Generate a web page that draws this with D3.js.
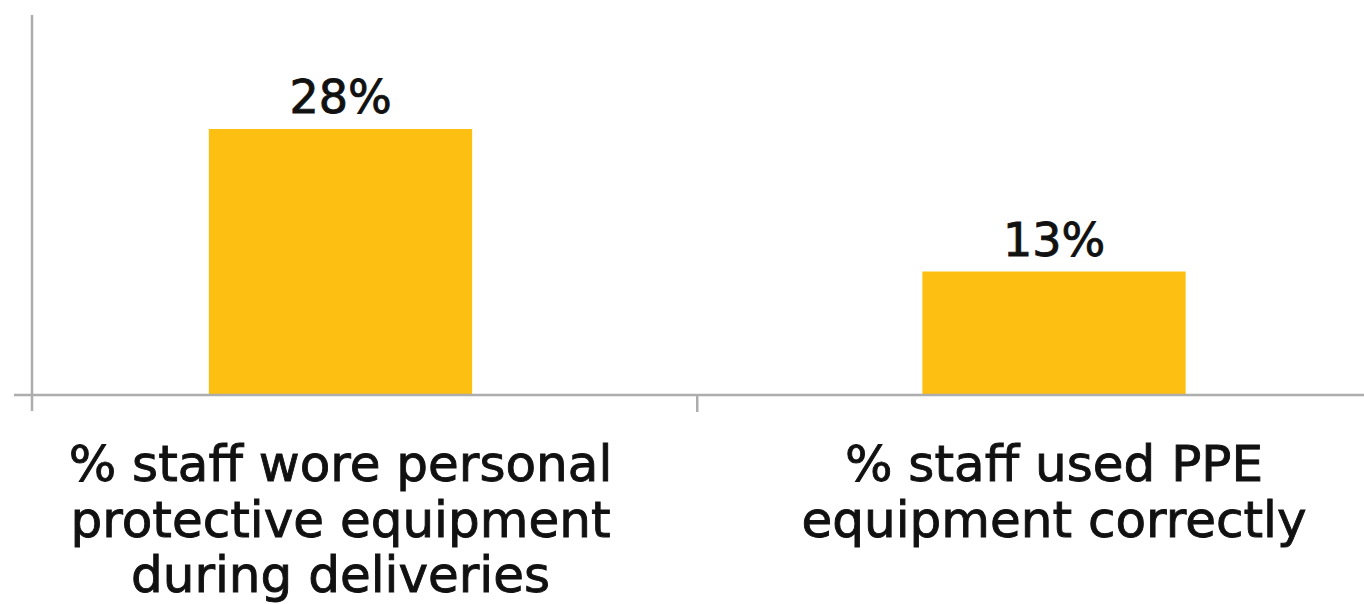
<!DOCTYPE html>
<html>
<head>
<meta charset="utf-8">
<script src="https://cdn.jsdelivr.net/npm/d3@7"></script>
<style>
  html, body { margin: 0; padding: 0; background: #ffffff; }
  svg { display: block; }
</style>
</head>
<body>
<svg id="chart" width="1364" height="604"></svg>
<script>
// Survey results: share of delivery staff using protective equipment
const categories = ["wore", "correct"];
const categoryLines = [
  ["% staff wore personal", "protective equipment", "during deliveries"],
  ["% staff used PPE", "equipment correctly"]
];
const values = [28, 13];
const valueLabels = ["28%", "13%"];

const W = 1364, H = 604;
const baseY = 395, topY = 15;
const axisX = 32;

const svg = d3.select("#chart");

const y = d3.scaleLinear().domain([0, 40]).range([baseY, topY]);
const x = d3.scaleBand()
  .domain(categories)
  .range([-16.25, 1410.75])
  .paddingInner(0.631)
  .paddingOuter(0.3155);

const axisColor = "#adadad";
const textColor = "#111111";

// bars
svg.selectAll("rect.bar")
  .data(values)
  .join("rect")
  .attr("class", "bar")
  .attr("x", (d, i) => x(categories[i]))
  .attr("width", x.bandwidth())
  .attr("y", d => y(d))
  .attr("height", d => y(0) - y(d))
  .attr("fill", "#fcbf12");

// value labels
svg.selectAll("text.val")
  .data(values)
  .join("text")
  .attr("class", "val")
  .attr("x", (d, i) => x(categories[i]) + x.bandwidth() / 2)
  .attr("y", d => y(d) - 16)
  .attr("text-anchor", "middle")
  .attr("font-family", "'DejaVu Sans', sans-serif")
  .attr("font-size", 46)
  .attr("fill", textColor)
  .attr("stroke", textColor)
  .attr("stroke-width", 0.9)
  .text((d, i) => valueLabels[i]);

// vertical axis line
svg.append("line")
  .attr("x1", axisX).attr("x2", axisX)
  .attr("y1", y(40)).attr("y2", baseY + 16)
  .attr("stroke", axisColor).attr("stroke-width", 2.5);

// horizontal axis line
svg.append("line")
  .attr("x1", 14).attr("x2", W)
  .attr("y1", baseY).attr("y2", baseY)
  .attr("stroke", axisColor).attr("stroke-width", 2.5);

// category boundary ticks
const step = x.step();
const boundaries = d3.range(1, categories.length).map(i => x.range()[0] + step * i);
svg.selectAll("line.tick")
  .data(boundaries)
  .join("line")
  .attr("class", "tick")
  .attr("x1", d => d).attr("x2", d => d)
  .attr("y1", baseY).attr("y2", baseY + 17)
  .attr("stroke", axisColor).attr("stroke-width", 2.5);

// category labels
const lab = svg.selectAll("text.cat")
  .data(categoryLines)
  .join("text")
  .attr("class", "cat")
  .attr("text-anchor", "middle")
  .attr("font-family", "'DejaVu Sans', sans-serif")
  .attr("font-size", 50)
  .attr("fill", textColor)
  .attr("stroke", textColor)
  .attr("stroke-width", 0.9);

lab.each(function (lines, i) {
  const cx = x(categories[i]) + x.bandwidth() / 2;
  d3.select(this).selectAll("tspan")
    .data(lines)
    .join("tspan")
    .attr("x", cx)
    .attr("y", (d, j) => 481 + j * 55.5)
    .text(d => d);
});
</script>
</body>
</html>
